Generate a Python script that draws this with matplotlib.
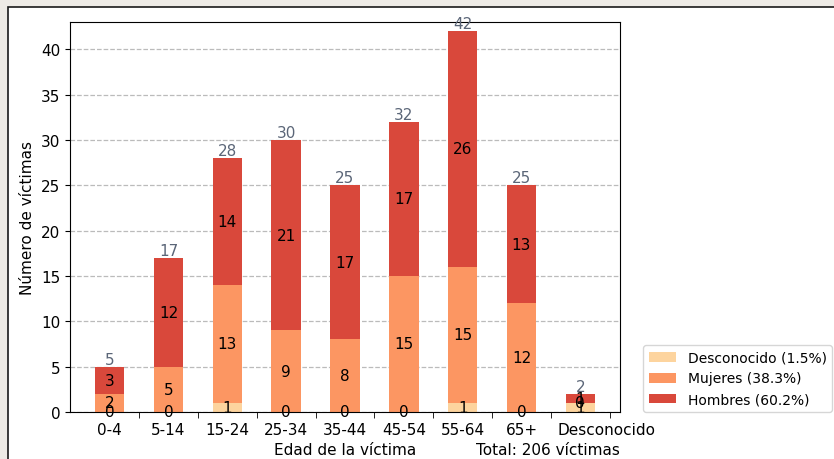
import matplotlib
matplotlib.use('Agg')
import matplotlib.pyplot as plt
import matplotlib.transforms as mtransforms
import numpy as np
from matplotlib.patches import Rectangle

# Data
edades = ['0-4', '5-14', '15-24', '25-34', '35-44', '45-54', '55-64', '65+', 'Desconocido']
desconocido = [0, 0, 1, 0, 0, 0, 1, 0, 1]
mujeres = [2, 5, 13, 9, 8, 15, 15, 12, 0]
hombres = [3, 12, 14, 21, 17, 17, 26, 13, 1]

# Colours
c_desc = '#fdd49e'
c_muj = '#fc9662'
c_hom = '#d9483b'
c_total = '#5b6678'

# Totals and shares
desc = np.array(desconocido)
muj = np.array(mujeres)
hom = np.array(hombres)
totales = desc + muj + hom
total = totales.sum()
pct = lambda a: 100 * a.sum() / total

fs = 11

# Figure with framed panel (screenshot look)
fig = plt.figure(figsize=(8.34, 4.6), dpi=100, facecolor='#eeebe6')
W, H = 834, 460
fig.patches.append(Rectangle((8 / W, -0.1), 1.2, 1 - 8 / H + 0.1, transform=fig.transFigure,
                             facecolor='white', edgecolor='#1a1a1a', linewidth=1.2, zorder=-10))
ax = fig.add_axes([70 / W, 47 / H, 550 / W, 390 / H])

x = np.arange(len(edades))
w = 0.5
b1 = ax.bar(x, desc, w, color=c_desc, label=f'Desconocido ({pct(desc):.1f}%)')
b2 = ax.bar(x, muj, w, bottom=desc, color=c_muj, label=f'Mujeres ({pct(muj):.1f}%)')
b3 = ax.bar(x, hom, w, bottom=desc + muj, color=c_hom, label=f'Hombres ({pct(hom):.1f}%)')

for cont in (b1, b2, b3):
    ax.bar_label(cont, label_type='center', fontsize=fs, color='black')
ax.bar_label(b3, labels=[str(t) for t in totales], padding=0, fontsize=fs, color=c_total)

ax.set_ylim(0, 43)
ax.set_yticks(range(0, 41, 5))
ax.grid(axis='y', linestyle='--', color='#bbbbbb', linewidth=0.9)
ax.set_axisbelow(True)

ax.set_xticks(x)
ax.set_xticklabels(edades)
ax.set_xticks(x + 0.5, minor=True)
ax.tick_params(axis='x', which='major', length=0, pad=7, labelsize=fs)
ax.tick_params(axis='x', which='minor', length=4)
ax.tick_params(axis='y', labelsize=fs)

# last label sits a bit to the right in the original
lab = ax.get_xticklabels()[-1]
lab.set_transform(lab.get_transform() + mtransforms.ScaledTranslation(0.26, 0, fig.dpi_scale_trans))

ax.set_xlabel('Edad de la víctima', fontsize=fs, labelpad=4)
ax.set_ylabel('Número de víctimas', fontsize=fs)
ax.text(1.0, -0.095, f'Total: {total} víctimas', transform=ax.transAxes,
        ha='right', va='center', fontsize=fs)

ax.legend(loc='lower left', bbox_to_anchor=(1.042, 0), borderaxespad=0, fontsize=10)

fig.savefig('out.png', dpi=100, facecolor=fig.get_facecolor())
